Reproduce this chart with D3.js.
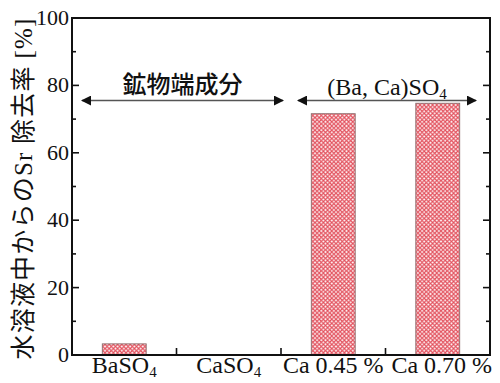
<!DOCTYPE html>
<html>
<head>
<meta charset="utf-8">
<script src="https://cdn.jsdelivr.net/npm/d3@7"></script>
<style>
  body { margin: 0; background: #fff; }
  svg { display: block; }
</style>
</head>
<body>
<svg id="chart" width="500" height="383"></svg>
<script>
// Sr removal rate from aqueous solution for each sulfate sample
const categories = ["BaSO4", "CaSO4", "Ca 0.45 %", "Ca 0.70 %"];
const removal = [3.3, 0, 71.6, 74.7];
const yTicks = [0, 20, 40, 60, 80, 100];
const yMinorTicks = [10, 30, 50, 70, 90];

const svg = d3.select("#chart");
const m = { left: 72, right: 490, top: 18, bottom: 355 };

const x = d3.scaleBand().domain(categories).range([m.left, m.right]).paddingInner(0.58).paddingOuter(0.29);
const y = d3.scaleLinear().domain([0, 100]).range([m.bottom, m.top]);

const serif = "'Liberation Serif', 'DejaVu Serif', serif";
const gothic = "'Noto Sans CJK JP', sans-serif";

// crosshatch fill for the bars
const defs = svg.append("defs");
const pat = defs.append("pattern").attr("id", "hatch")
  .attr("patternUnits", "userSpaceOnUse").attr("width", 4.2).attr("height", 4.2);
pat.append("rect").attr("width", 4.2).attr("height", 4.2).attr("fill", "#fdeef0");
pat.append("path").attr("d", "M0,0 L4.2,4.2 M4.2,0 L0,4.2")
  .attr("stroke", "#e2505c").attr("stroke-width", 1.1);

// bars
svg.append("g").selectAll("rect").data(categories.map((c, i) => ({ c, v: removal[i] })).filter(d => d.v > 0))
  .join("rect")
  .attr("x", d => x(d.c))
  .attr("width", x.bandwidth())
  .attr("y", d => y(d.v))
  .attr("height", d => y(0) - y(d.v))
  .attr("fill", "url(#hatch)")
  .attr("stroke", "#8a6a6a").attr("stroke-width", 0.9);

// frame
svg.append("rect").attr("x", m.left).attr("y", m.top)
  .attr("width", m.right - m.left).attr("height", m.bottom - m.top)
  .attr("fill", "none").attr("stroke", "#111").attr("stroke-width", 2);

// y ticks (inward, both sides)
const tickG = svg.append("g").attr("stroke", "#111").attr("stroke-width", 1.6);
yTicks.concat(yMinorTicks).forEach(t => {
  const len = yTicks.includes(t) ? 7 : 4;
  tickG.append("line").attr("x1", m.left).attr("x2", m.left + len).attr("y1", y(t)).attr("y2", y(t));
  tickG.append("line").attr("x1", m.right).attr("x2", m.right - len).attr("y1", y(t)).attr("y2", y(t));
});
// x ticks at category boundaries
categories.slice(1).forEach(c => {
  const bx = x(c) - x.step() * x.paddingInner() / 2;
  tickG.append("line").attr("x1", bx).attr("x2", bx).attr("y1", m.bottom).attr("y2", m.bottom - 7);
});

// y tick labels
svg.append("g").selectAll("text").data(yTicks).join("text")
  .attr("x", m.left - 3).attr("y", d => y(d) + 7)
  .attr("text-anchor", "end")
  .attr("font-family", serif).attr("font-size", 22).attr("fill", "#111")
  .text(d => d);

// x tick labels with subscripts
const xl = svg.append("g").attr("font-family", serif).attr("font-size", 24).attr("fill", "#111");
categories.forEach((c, i) => {
  const cx = x(c) + x.bandwidth() / 2 + (i === 3 ? 4 : 0);
  const t = xl.append("text").attr("x", cx).attr("y", 373).attr("text-anchor", "middle");
  const mm = c.match(/^(.*SO)4$/);
  if (mm) {
    t.append("tspan").text(mm[1]);
    t.append("tspan").attr("font-size", 15).attr("dy", 4).text("4");
  } else {
    t.text(c);
  }
});

// y axis title
const yt = svg.append("text")
  .attr("transform", `translate(32,${(m.top + m.bottom) / 2 + 2}) rotate(-90)`)
  .attr("text-anchor", "middle").attr("font-size", 25).attr("fill", "#111")
  .attr("letter-spacing", 1.2)
  .attr("font-family", gothic);
yt.append("tspan").text("水溶液中からの");
yt.append("tspan").attr("font-family", serif).text("Sr ");
yt.append("tspan").text("除去率 ");
yt.append("tspan").attr("font-family", serif).text("[%]");

// group arrows
const marker = defs.append("marker").attr("id", "head").attr("viewBox", "0 0 10 10")
  .attr("refX", 9).attr("refY", 5).attr("markerWidth", 10).attr("markerHeight", 10)
  .attr("markerUnits", "userSpaceOnUse").attr("orient", "auto-start-reverse");
marker.append("path").attr("d", "M0,0 L10,5 L0,10 Z").attr("fill", "#111");

const arrowY = y(75.5);
const groups = [
  { x1: 82, x2: 283, label: "鉱物端成分", cjk: true },
  { x1: 298, x2: 476, label: "(Ba, Ca)SO", cjk: false }
];
groups.forEach(g => {
  svg.append("line").attr("x1", g.x1).attr("x2", g.x2).attr("y1", arrowY).attr("y2", arrowY)
    .attr("stroke", "#555").attr("stroke-width", 1.6)
    .attr("marker-start", "url(#head)").attr("marker-end", "url(#head)");
  const t = svg.append("text").attr("x", (g.x1 + g.x2) / 2).attr("y", arrowY - 6)
    .attr("text-anchor", "middle").attr("font-size", 24).attr("fill", "#111");
  if (g.cjk) {
    t.attr("font-family", gothic).attr("font-weight", 500).attr("y", arrowY - 8).text(g.label);
  } else {
    t.attr("font-family", serif);
    t.append("tspan").text(g.label);
    t.append("tspan").attr("font-size", 15).attr("dy", 4).text("4");
  }
});
</script>
</body>
</html>
